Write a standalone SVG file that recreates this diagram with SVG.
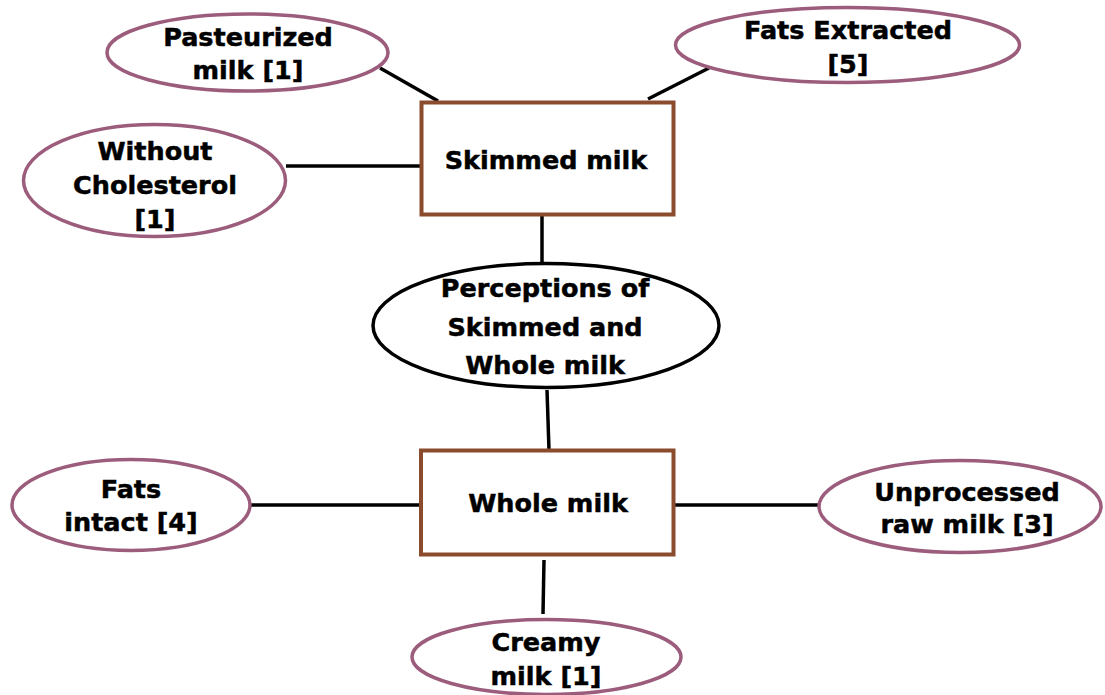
<svg xmlns="http://www.w3.org/2000/svg" width="1105" height="695" viewBox="0 0 1105 695">
  <style>
    .bg { fill: #ffffff; }
    .term { fill: #ffffff; stroke: #9c5c7c; stroke-width: 3.5; }
    .hub { fill: #ffffff; stroke: #000000; stroke-width: 3.5; }
    .box { fill: #ffffff; stroke: #8b4b2d; stroke-width: 4; }
    .link { stroke: #000000; stroke-width: 3.5; fill: none; }
    text { font-family: "DejaVu Sans", Verdana, sans-serif; font-weight: bold; font-size: 25.5px; fill: #000000; stroke: #000000; stroke-width: 0.5; text-anchor: middle; }
  </style>
  <rect class="bg" x="0" y="0" width="1105" height="695"/>

  <!-- connectors -->
  <g id="connectors">
    <line class="link" x1="380" y1="68" x2="438" y2="101"/>
    <line class="link" x1="709" y1="68" x2="648" y2="99"/>
    <line class="link" x1="286" y1="166" x2="421" y2="166"/>
    <line class="link" x1="542" y1="215" x2="542" y2="263"/>
    <line class="link" x1="547" y1="390" x2="549" y2="450"/>
    <line class="link" x1="250" y1="505" x2="421" y2="505"/>
    <line class="link" x1="675" y1="505" x2="818" y2="505"/>
    <line class="link" x1="544" y1="560" x2="543" y2="614"/>
  </g>

  <g id="pasteurized">
    <ellipse class="term" cx="247.5" cy="52.5" rx="140.5" ry="38.5"/>
    <text x="248" y="46">Pasteurized</text>
    <text x="248" y="79">milk [1]</text>
  </g>

  <g id="fats-extracted">
    <ellipse class="term" cx="847.5" cy="45" rx="172" ry="37.5"/>
    <text x="848" y="39">Fats Extracted</text>
    <text x="848" y="73">[5]</text>
  </g>

  <g id="skimmed-milk">
    <rect class="box" x="421.5" y="102.5" width="252" height="112"/>
    <text x="546" y="169">Skimmed milk</text>
  </g>

  <g id="without-cholesterol">
    <ellipse class="term" cx="154.5" cy="180.5" rx="131" ry="56"/>
    <text x="155" y="160">Without</text>
    <text x="155" y="194">Cholesterol</text>
    <text x="155" y="228">[1]</text>
  </g>

  <g id="perceptions">
    <ellipse class="hub" cx="546" cy="325.5" rx="173" ry="62"/>
    <text x="545" y="297">Perceptions of</text>
    <text x="545" y="336">Skimmed and</text>
    <text x="545" y="374">Whole milk</text>
  </g>

  <g id="whole-milk">
    <rect class="box" x="421" y="450.5" width="252.5" height="104"/>
    <text x="548" y="512">Whole milk</text>
  </g>

  <g id="fats-intact">
    <ellipse class="term" cx="131" cy="505" rx="119" ry="45.5"/>
    <text x="131" y="498">Fats</text>
    <text x="131" y="531">intact [4]</text>
  </g>

  <g id="unprocessed">
    <ellipse class="term" cx="960" cy="506.5" rx="141" ry="46"/>
    <text x="967" y="501">Unprocessed</text>
    <text x="967" y="533">raw milk [3]</text>
  </g>

  <g id="creamy-milk">
    <ellipse class="term" cx="546.5" cy="657" rx="134.5" ry="37.5"/>
    <text x="546" y="651">Creamy</text>
    <text x="546" y="685">milk [1]</text>
  </g>
</svg>
